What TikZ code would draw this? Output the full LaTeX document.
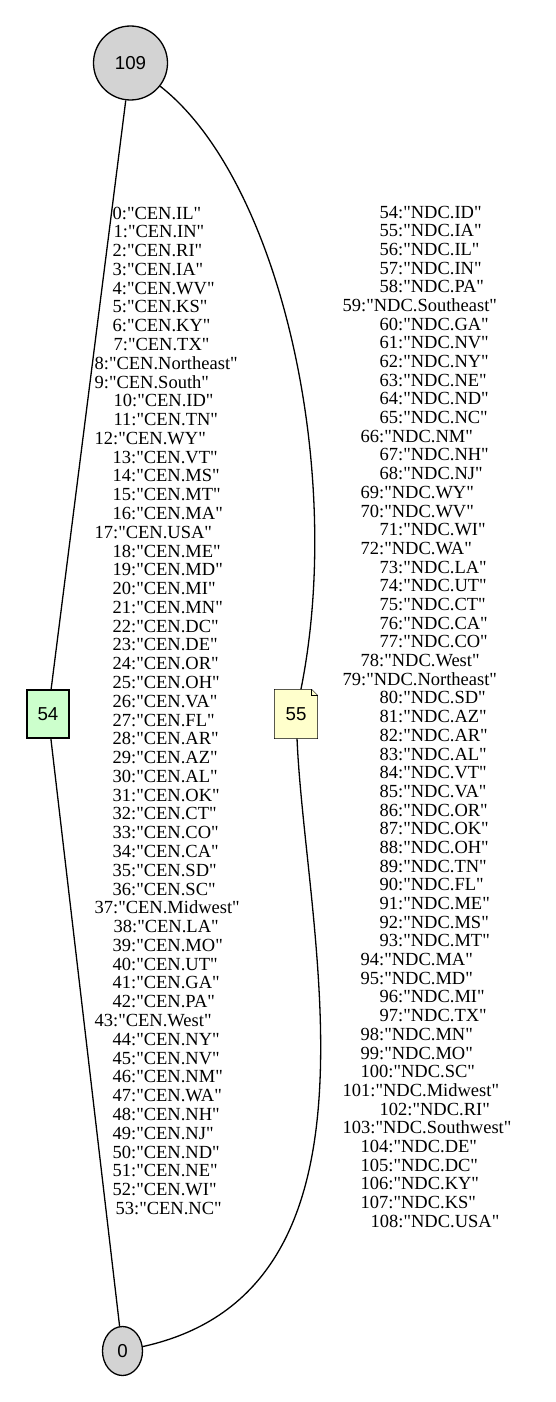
\documentclass[tikz,border=0pt]{standalone}
\usepackage{fontspec}
\setmainfont{Liberation Serif}[Ligatures=TeXOff]
\newfontfamily\nodefont{Liberation Sans}
\usetikzlibrary{positioning}
\usetikzlibrary{backgrounds}
\usetikzlibrary{calc}
\usetikzlibrary{shapes.geometric}
\definecolor{grayfill}{HTML}{D3D3D3}
\definecolor{greenfill}{HTML}{CCFFCC}
\definecolor{notefill}{HTML}{FFFFCC}

\begin{document}
\begin{tikzpicture}[x=1pt, y=-1pt, line width=1.3pt,
    vertex/.style={draw, fill=grayfill, inner sep=0pt, font=\nodefont\fontsize{18.7}{20}\selectfont},
    cluster/.style={minimum width=42pt, minimum height=48pt, inner sep=0pt, font=\nodefont\fontsize{18.7}{20}\selectfont},
    entry/.style={anchor=base west, inner sep=0pt, font=\fontsize{18.5}{18.75}\selectfont}]

  \useasboundingbox (0, 0) rectangle (555, 1402);

  % end vertices
  \node at (130.5, 63) (n109) [vertex, circle, minimum size=74pt] {109};
  \node at (122.5, 1351) (n0) [vertex, ellipse, minimum width=40pt, minimum height=49pt] {0};

  % group boxes
  \node at (48, 714) (n54) [cluster, draw, fill=greenfill] {54};
  \node at (296, 714) (n55) [cluster] {55};

  % note outline behind 55
  \begin{scope}[on background layer]
    \filldraw [fill=notefill] (n55.south west) -- (n55.north west) -- ([xshift=-6pt] n55.north east)
      -- ([yshift=-6pt] n55.north east) -- (n55.south east) -- cycle;
    \draw [line width=0.8pt] ([xshift=-6pt] n55.north east) |- ([yshift=-6pt] n55.north east);
  \end{scope}

  % edges
  \draw (n109) -- (n54);
  \draw (n54) -- (n0);
  \draw (n109) .. controls (280, 180) and (345, 470) .. (n55);
  \draw (n55) .. controls (305, 930) and (400, 1290) .. (n0);

  % CEN members
  \foreach \name/\dx [count=\i from 0] in {IL/18, IN/19, RI/18, IA/18, WV/18, KS/18, KY/18, TX/19,
      Northeast/0, South/0, ID/19, TN/19, WY/0, VT/18, MS/18, MT/18, MA/18, USA/0, ME/18, MD/18,
      MI/18, MN/18, DC/18, DE/18, OR/18, OH/18, VA/18, FL/18, AR/18, AZ/18, AL/18, OK/18, CT/18,
      CO/18, CA/18, SD/18, SC/18, Midwest/0, LA/19, MO/18, UT/18, GA/18, PA/18, West/0, NY/18,
      NV/18, NM/18, WA/18, NH/18, NJ/18, ND/18, NE/18, WI/18, NC/21}
    \node (cen\i) at (94+\dx, 219+18.78*\i) [entry] {\i:"CEN.\name"};

  % NDC members
  \foreach \name/\dx [count=\i from 54] in {ID/37, IA/37, IL/37, IN/37, PA/37, Southeast/0, GA/37,
      NV/37, NY/37, NE/37, ND/37, NC/37, NM/18, NH/37, NJ/37, WY/18, WV/18, WI/37, WA/18, LA/37,
      UT/37, CT/37, CA/37, CO/37, West/18, Northeast/0, SD/37, AZ/37, AR/37, AL/37, VT/37, VA/37,
      OR/37, OK/37, OH/37, TN/37, FL/37, ME/37, MS/37, MT/37, MA/18, MD/18, MI/37, TX/37, MN/18,
      MO/18, SC/18, Midwest/0, RI/37, Southwest/0, DE/18, DC/18, KY/18, KS/18, USA/28}
    \node (ndc\i) at (342+\dx, 218+18.69*\i-18.69*54) [entry] {\i:"NDC.\name"};

\end{tikzpicture}
\end{document}
